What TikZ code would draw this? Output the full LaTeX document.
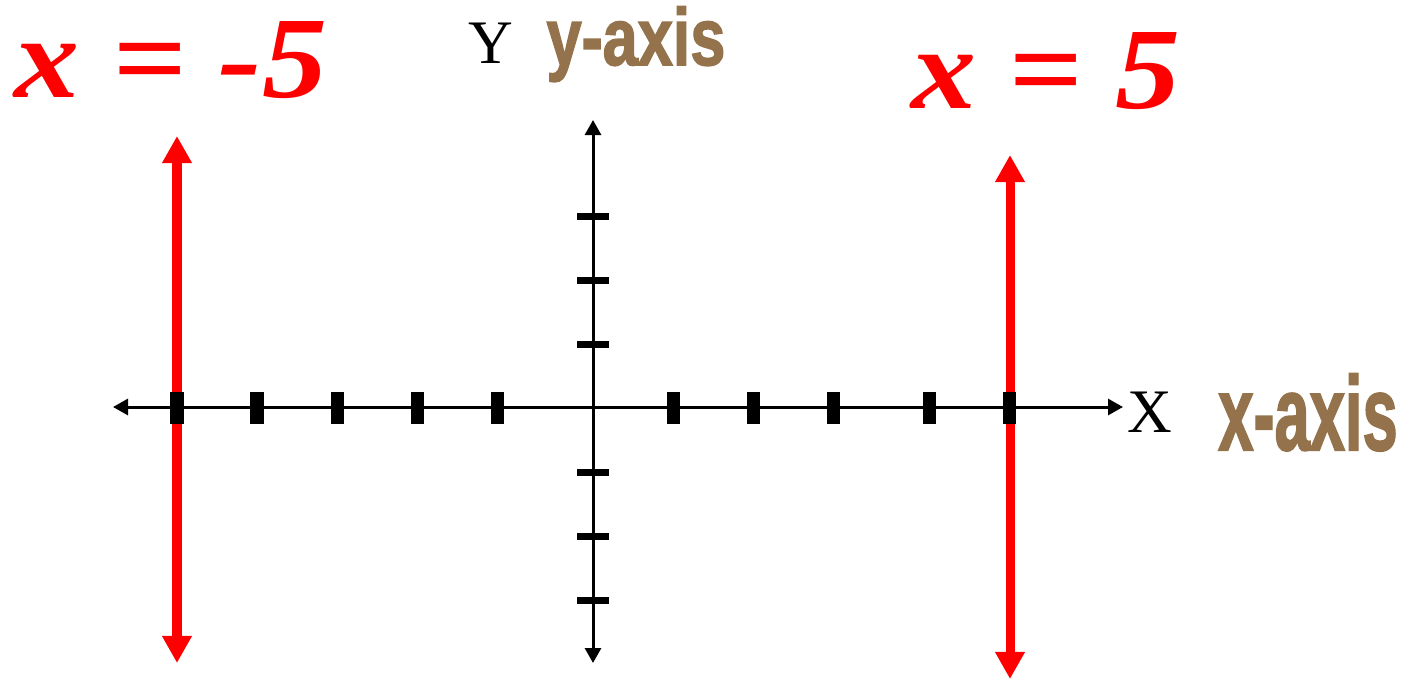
\documentclass[tikz,border=0pt]{standalone}
\usepackage{fontspec}
\setmainfont{Liberation Serif}
\newfontfamily\labelfont{Liberation Sans}[BoldFeatures={FakeBold=2}]
\usepackage{xcolor}
\usetikzlibrary{arrows.meta, positioning}
\definecolor{axisbrown}{HTML}{94734C}

\begin{document}
\begin{tikzpicture}[x=0.01cm,y=-0.01cm]
\tikzstyle{xtick}=[rectangle,fill,inner sep=0pt,minimum width=0.13cm,minimum height=0.32cm]
\tikzstyle{ytick}=[rectangle,fill,inner sep=0pt,minimum width=0.32cm,minimum height=0.07cm]
\tikzstyle{axis}=[line width=0.03cm,{Triangle[length=0.15cm,width=0.16cm]}-{Triangle[length=0.15cm,width=0.16cm]}]
\tikzstyle{vline}=[red,line width=0.09cm,{Triangle[length=0.27cm,width=0.28cm]}-{Triangle[length=0.27cm,width=0.28cm]}]
\tikzstyle{eq}=[text=red,font=\fontsize{33}{40}\selectfont\bfseries\itshape,inner sep=0pt,anchor=base]
\tikzstyle{letter}=[font=\fontsize{17.6}{20}\selectfont,inner sep=0pt,anchor=base]
\tikzstyle{axisname}=[text=axisbrown,inner sep=0pt,anchor=base]

\useasboundingbox (0,0) rectangle (1409,681);

% Labels
\node[eq] (eqleft) at (171,97) {\scalebox{1.12}[1]{x = -5}};
\node[eq] (eqright) at (1046,108) {\scalebox{1.12}[1]{x = 5}};
\node[letter] (ylet) at (491,63) {Y};
\node[letter] (xlet) at (1150,432) {X};
\node[axisname,font=\labelfont\bfseries\fontsize{23}{26}\selectfont] (yname) at (636,65) {\scalebox{0.78}[1]{y-axis}};
\node[axisname,font=\labelfont\bfseries\fontsize{30}{34}\selectfont] (xname) at (1308,450) {\scalebox{0.6}[1]{x-axis}};

% Vertical lines
\coordinate (lt) at (177,136);
\coordinate (lb) at (177,663);
\coordinate (rt) at (1010,155);
\coordinate (rb) at (1010,679);
\draw[vline] (lb) -- (lt);
\draw[vline] (rb) -- (rt);

% Axes
\coordinate (xl) at (113,407);
\coordinate (xr) at (1123,407);
\coordinate (yt) at (593,120);
\coordinate (yb) at (593,663);
\draw[axis] (xl) -- (xr);
\draw[axis] (yb) -- (yt);

% Ticks
\foreach \i/\x in {1/177,2/257,3/337,4/417,5/497,6/673,7/753,8/833,9/929,10/1009}
  \node[xtick] (tx\i) at (\x,408) {};
\foreach \i/\y in {1/216,2/280,3/344,4/472,5/536,6/600}
  \node[ytick] (ty\i) at (593,\y) {};

\end{tikzpicture}
\end{document}
